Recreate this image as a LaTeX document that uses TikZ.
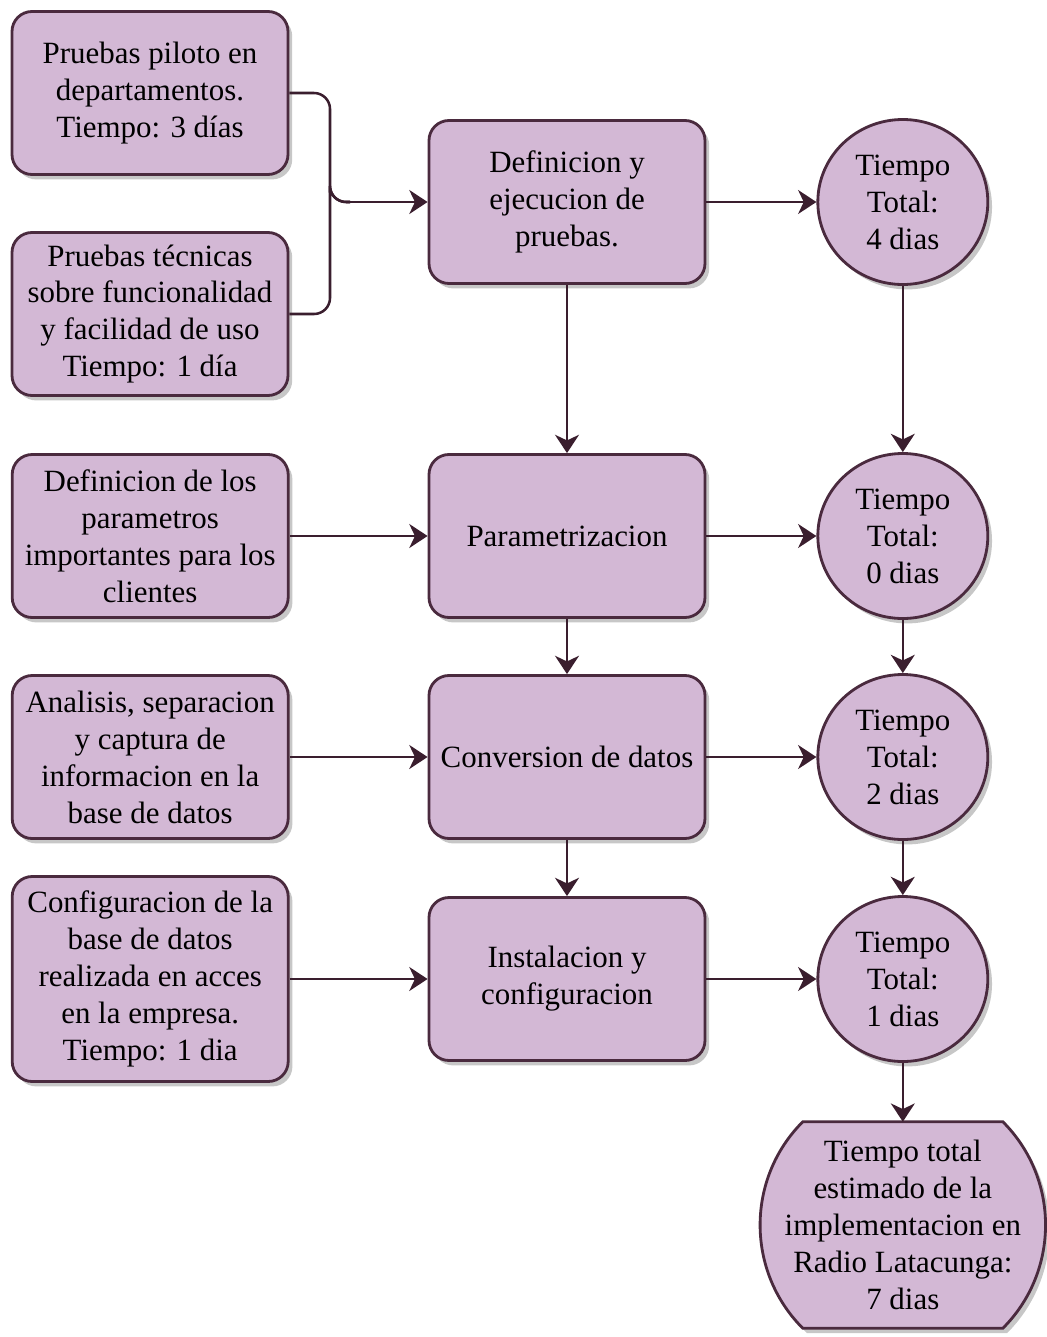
\documentclass[tikz,border=0pt]{standalone}
\usepackage{fontspec}
\setmainfont{Liberation Serif}
\usetikzlibrary{positioning}
\usetikzlibrary{backgrounds}
\usetikzlibrary{shapes.geometric}
\usetikzlibrary{shadows,arrows.meta}
\definecolor{lila}{RGB}{211,184,213}
\definecolor{borde}{RGB}{74,42,62}
\definecolor{flecha}{RGB}{58,30,46}
\def\myhdist{3.45cm}
\def\myrdist{2.75cm}
\tikzset{
>={Stealth[length=13pt,width=17pt,inset=4pt]},
my node/.style={font=\fontsize{22}{26.3}\selectfont,align=center,inner sep=0mm},
my shadow/.style={drop shadow={shadow xshift=3pt,shadow yshift=-3.5pt,fill=black!40,opacity=.55}},
my shape/.style={draw=borde,line width=2pt,fill=lila,my shadow},
my box/.style={my node,my shape,rectangle,rounded corners=5mm,minimum width=6.9cm,minimum height=4.075cm},
my time/.style={my node,my shape,ellipse,minimum width=4.25cm,minimum height=4.125cm},
my total/.style={my node,minimum width=7.05cm,minimum height=5.15cm},
link/.style={draw=flecha,line width=1.8pt},
}
\begin{document}
\begin{tikzpicture}
\useasboundingbox (0,0) rectangle (26.15,-33.425);

% columna central
\node[my box] (def)  at (14.175,-5.05)  {Definicion y\\ejecucion de\\pruebas.};
\node[my box] (par)  at (14.175,-13.4)  {Parametrizacion};
\node[my box] (conv) at (14.175,-18.925) {Conversion de datos};
\node[my box] (inst) at (14.175,-24.475) {Instalacion y\\configuracion};

% entradas
\node[my box] (pil) at (3.75,-2.325) {Pruebas piloto en\\departamentos.\\Tiempo: 3 días};
\node[my box] (tec) at (3.75,-7.85)  {Pruebas técnicas\\sobre funcionalidad\\y facilidad de uso\\Tiempo: 1 día};
\node[my box] (cli)  [left=\myhdist of par]  {Definicion de los\\parametros\\importantes para los\\clientes};
\node[my box] (ana)  [left=\myhdist of conv] {Analisis, separacion\\y captura de\\informacion en la\\base de datos};
\node[my box,minimum height=5.125cm] (acc) [left=\myhdist of inst] {Configuracion de la\\base de datos\\realizada en acces\\en la empresa.\\Tiempo: 1 dia};

% tiempos
\node[my time] (t1) [right=\myrdist of def]  {Tiempo\\Total:\\4 dias};
\node[my time] (t2) [right=\myrdist of par]  {Tiempo\\Total:\\0 dias};
\node[my time] (t3) [right=\myrdist of conv] {Tiempo\\Total:\\2 dias};
\node[my time] (t4) [right=\myrdist of inst] {Tiempo\\Total:\\1 dias};
\node[my total] (tot) at (t4 |- 0,-30.625) {Tiempo total\\estimado de la\\implementacion en\\Radio Latacunga:\\7 dias};
\begin{scope}[on background layer]
\path[my shape] ([xshift=-2.5cm]tot.north) -- ([xshift=2.5cm]tot.north)
  to[bend left=45] ([xshift=2.5cm]tot.south) -- ([xshift=-2.5cm]tot.south)
  to[bend left=45] ([xshift=-2.5cm]tot.north) -- cycle;
\end{scope}

\coordinate (jn) at (8.75,-5.05);
\draw[link,rounded corners=0.4cm] (pil.east) -| ([xshift=-0.5cm]jn) |- (jn);
\draw[link,rounded corners=0.4cm] (tec.east) -| ([xshift=-0.5cm]jn) |- (jn);

\path[->,every edge/.append style={link}]
     (jn) edge (def)
     (cli) edge (par)
     (ana) edge (conv)
     (acc) edge (inst)
     (def) edge (par)
     (par) edge (conv)
     (conv) edge (inst)
     (def) edge (t1)
     (par) edge (t2)
     (conv) edge (t3)
     (inst) edge (t4)
     (t1) edge (t2)
     (t2) edge (t3)
     (t3) edge (t4)
     (t4) edge (tot);
\end{tikzpicture}
\end{document}
